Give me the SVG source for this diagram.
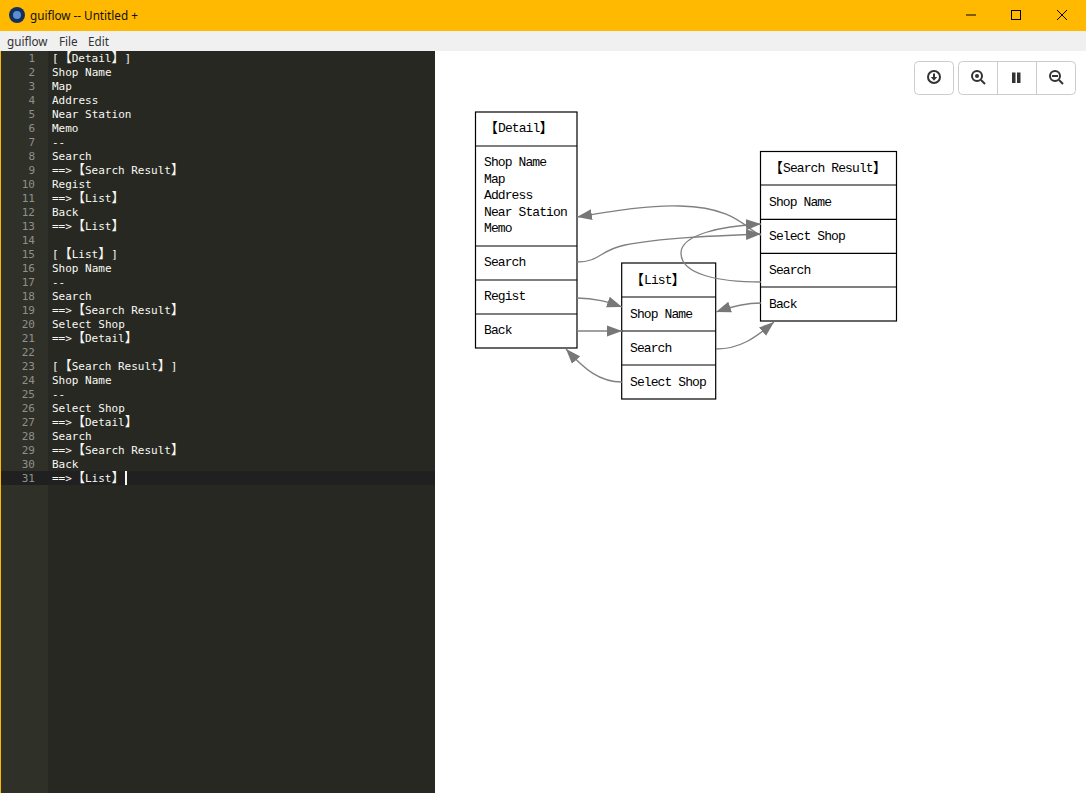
<svg xmlns="http://www.w3.org/2000/svg" width="1086" height="793" viewBox="0 0 1086 793">
<style>
text{text-spacing-trim:space-all}
.code{font:11px "DejaVu Sans Mono","Liberation Mono",monospace;fill:#f8f8f2}
.b{font-family:"Noto Sans CJK JP",sans-serif;font-size:13px}
.num{font:11px "DejaVu Sans Mono","Liberation Mono",monospace;fill:#8f908a;text-anchor:end}
.ui{font:11.7px "Noto Sans","Open Sans",sans-serif}
.box{fill:#fff;stroke:#000;stroke-width:1.2}
.div{stroke:#000;stroke-width:1.2;fill:none}
.t{font:13px "Liberation Mono","Noto Sans CJK JP",monospace;letter-spacing:-.9px;fill:#000}
.tb{font-family:"Noto Sans CJK JP",sans-serif;font-size:14px;letter-spacing:0}
.e{fill:none;stroke:#808080;stroke-width:1.3;marker-end:url(#arrow)}
.btn{fill:#fff;stroke:#ccc;stroke-width:1}
.ic{fill:none;stroke:#333;stroke-width:2}
.wc{fill:none;stroke:#000;stroke-width:1}
</style>
<defs>
<marker id="arrow" markerUnits="userSpaceOnUse" markerWidth="16" markerHeight="12" refX="15" refY="6" orient="auto">
<path d="M0,0.5L15,6L0,11.5Z" fill="#777"/>
</marker>
</defs>
<rect width="1086" height="793" fill="#fff"/>
<g id="titlebar">
<rect width="1086" height="31" fill="#ffb900"/>
<circle cx="17" cy="15" r="8" fill="#12305f"/>
<circle cx="17" cy="15" r="4" fill="#5b8fd0"/>
<text class="ui" x="30" y="20" fill="#111">guiflow -- Untitled +</text>
<path class="wc" d="M966,15H976"/>
<rect class="wc" x="1011.500" y="10.500" width="9" height="9"/>
<path class="wc" d="M1057,10L1067,20M1067,10L1057,20"/>
</g>
<g id="menubar">
<rect y="31" width="1086" height="20" fill="#f0f0f0"/>
<text class="ui" x="7" y="46" fill="#333">guiflow</text>
<text class="ui" x="59" y="46" fill="#333">File</text>
<text class="ui" x="88" y="46" fill="#333">Edit</text>
</g>
<g id="editor">
<rect y="51" width="435" height="742" fill="#272822"/>
<rect y="51" width="48" height="742" fill="#2f3129"/>
<rect y="471" width="435" height="14" fill="#202020"/>
<rect y="51" width="1" height="742" fill="#ffb900"/>
<g class="num">
<text class="num" x="35" y="62">1</text><text class="num" x="35" y="76">2</text><text class="num" x="35" y="90">3</text><text class="num" x="35" y="104">4</text><text class="num" x="35" y="118">5</text><text class="num" x="35" y="132">6</text><text class="num" x="35" y="146">7</text><text class="num" x="35" y="160">8</text><text class="num" x="35" y="174">9</text><text class="num" x="35" y="188">10</text><text class="num" x="35" y="202">11</text><text class="num" x="35" y="216">12</text><text class="num" x="35" y="230">13</text><text class="num" x="35" y="244">14</text><text class="num" x="35" y="258">15</text><text class="num" x="35" y="272">16</text><text class="num" x="35" y="286">17</text><text class="num" x="35" y="300">18</text><text class="num" x="35" y="314">19</text><text class="num" x="35" y="328">20</text><text class="num" x="35" y="342">21</text><text class="num" x="35" y="356">22</text><text class="num" x="35" y="370">23</text><text class="num" x="35" y="384">24</text><text class="num" x="35" y="398">25</text><text class="num" x="35" y="412">26</text><text class="num" x="35" y="426">27</text><text class="num" x="35" y="440">28</text><text class="num" x="35" y="454">29</text><text class="num" x="35" y="468">30</text><text class="num" x="35" y="482">31</text>
</g>
<text class="code" x="52" y="62">[<tspan class="b">【</tspan>Detail<tspan class="b">】</tspan>]</text>
<text class="code" x="52" y="76">Shop Name</text>
<text class="code" x="52" y="90">Map</text>
<text class="code" x="52" y="104">Address</text>
<text class="code" x="52" y="118">Near Station</text>
<text class="code" x="52" y="132">Memo</text>
<text class="code" x="52" y="146">--</text>
<text class="code" x="52" y="160">Search</text>
<text class="code" x="52" y="174">==&gt;<tspan class="b">【</tspan>Search Result<tspan class="b">】</tspan></text>
<text class="code" x="52" y="188">Regist</text>
<text class="code" x="52" y="202">==&gt;<tspan class="b">【</tspan>List<tspan class="b">】</tspan></text>
<text class="code" x="52" y="216">Back</text>
<text class="code" x="52" y="230">==&gt;<tspan class="b">【</tspan>List<tspan class="b">】</tspan></text>
<text class="code" x="52" y="258">[<tspan class="b">【</tspan>List<tspan class="b">】</tspan>]</text>
<text class="code" x="52" y="272">Shop Name</text>
<text class="code" x="52" y="286">--</text>
<text class="code" x="52" y="300">Search</text>
<text class="code" x="52" y="314">==&gt;<tspan class="b">【</tspan>Search Result<tspan class="b">】</tspan></text>
<text class="code" x="52" y="328">Select Shop</text>
<text class="code" x="52" y="342">==&gt;<tspan class="b">【</tspan>Detail<tspan class="b">】</tspan></text>
<text class="code" x="52" y="370">[<tspan class="b">【</tspan>Search Result<tspan class="b">】</tspan>]</text>
<text class="code" x="52" y="384">Shop Name</text>
<text class="code" x="52" y="398">--</text>
<text class="code" x="52" y="412">Select Shop</text>
<text class="code" x="52" y="426">==&gt;<tspan class="b">【</tspan>Detail<tspan class="b">】</tspan></text>
<text class="code" x="52" y="440">Search</text>
<text class="code" x="52" y="454">==&gt;<tspan class="b">【</tspan>Search Result<tspan class="b">】</tspan></text>
<text class="code" x="52" y="468">Back</text>
<text class="code" x="52" y="482">==&gt;<tspan class="b">【</tspan>List<tspan class="b">】</tspan></text>
<rect x="125" y="471" width="2" height="14" fill="#f8f8f0"/>
</g>
<g id="toolbar">
<rect class="btn" x="914.500" y="61.500" width="39" height="33" rx="4"/>
<rect class="btn" x="958.500" y="61.500" width="117" height="33" rx="4"/>
<path d="M997.500,62V94M1036.500,62V94" stroke="#ccc" fill="none"/>
<circle class="ic" cx="934" cy="77" r="6"/>
<path d="M934,73.500V78" stroke="#333" stroke-width="2" fill="none"/>
<path d="M930.800,77L937.200,77L934,80.800Z" fill="#333"/>
<circle class="ic" cx="977" cy="76" r="5"/>
<circle cx="977" cy="76" r="2" fill="#333"/>
<path class="ic" d="M981,80L985,84"/>
<rect x="1012" y="72.500" width="3.500" height="10.500" fill="#333"/>
<rect x="1017" y="72.500" width="3.500" height="10.500" fill="#333"/>
<circle class="ic" cx="1055" cy="76" r="5"/>
<path d="M1052,76H1058" stroke="#333" stroke-width="2"/>
<path class="ic" d="M1059,80L1063,84"/>
</g>
<g id="node-detail">
<rect class="box" x="475.500" y="112" width="101.500" height="236"/>
<path class="div" d="M475.500,146H577M475.500,246H577M475.500,280H577M475.500,314H577"/>
<text class="t" x="484" y="132"><tspan class="tb">【</tspan>Detail<tspan class="tb">】</tspan></text>
<text class="t" x="484" y="166">Shop Name</text>
<text class="t" x="484" y="183">Map</text>
<text class="t" x="484" y="199">Address</text>
<text class="t" x="484" y="216">Near Station</text>
<text class="t" x="484" y="232">Memo</text>
<text class="t" x="484" y="266">Search</text>
<text class="t" x="484" y="300">Regist</text>
<text class="t" x="484" y="334">Back</text>
</g>
<g id="node-search-result">
<rect class="box" x="760.500" y="151.500" width="136" height="169.500"/>
<path class="div" d="M760.500,185H896.500M760.500,219.300H896.500M760.500,253.300H896.500M760.500,287H896.500"/>
<text class="t" x="769" y="172"><tspan class="tb">【</tspan>Search Result<tspan class="tb">】</tspan></text>
<text class="t" x="769" y="206">Shop Name</text>
<text class="t" x="769" y="240">Select Shop</text>
<text class="t" x="769" y="274">Search</text>
<text class="t" x="769" y="308">Back</text>
</g>
<g id="node-list">
<rect class="box" x="621.700" y="263" width="94" height="136"/>
<path class="div" d="M621.700,297H715.700M621.700,331H715.700M621.700,365H715.700"/>
<text class="t" x="630" y="284"><tspan class="tb">【</tspan>List<tspan class="tb">】</tspan></text>
<text class="t" x="630" y="318">Shop Name</text>
<text class="t" x="630" y="352">Search</text>
<text class="t" x="630" y="386">Select Shop</text>
</g>
<g id="connectors">
<path class="e" d="M761,235C748,232 738,207 680,206C650,205 620,210 577,217"/>
<path class="e" d="M577,262C600,262 600,250 625,245C660,238 710,236 761,234"/>
<path class="e" d="M761,282C720,282 681,275 681,253C681,235 720,226 761,224"/>
<path class="e" d="M577,298C595,298 608,302 622,307"/>
<path class="e" d="M577,331H622"/>
<path class="e" d="M622,382C600,382 585,370 566,349"/>
<path class="e" d="M761,303C745,303 730,307 716,312"/>
<path class="e" d="M716,349C740,349 755,338 774,322"/>
</g>
</svg>
